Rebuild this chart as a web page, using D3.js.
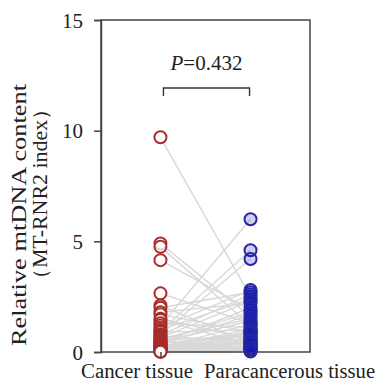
<!DOCTYPE html>
<html>
<head>
<meta charset="utf-8">
<script src="https://cdn.jsdelivr.net/npm/d3@7"></script>
<style>
  html, body { margin: 0; padding: 0; background: #fff; }
  svg { display: block; }
</style>
</head>
<body>
<svg id="chart" width="379" height="382"></svg>
<script>
const categories = ["Cancer tissue", "Paracancerous tissue"];
const cancerValues = [9.7, 4.9, 4.75, 4.15, 2.65, 2.1, 2.0, 1.8, 1.7, 1.5,
  1.45, 1.3, 1.2, 1.1, 1.0, 0.95, 0.9, 0.8, 0.75, 0.7,
  0.65, 0.6, 0.55, 0.5, 0.48, 0.45, 0.4, 0.38, 0.35, 0.32,
  0.3, 0.28, 0.25, 0.22, 0.2, 0.18, 0.16, 0.15, 0.12, 0.1,
  0.1, 0.08, 0.07, 0.06, 0.05, 0.05, 0.04, 0.03, 0.03, 0.02,
  0.02, 0.01];
const paraValues = [2.5, 1.6, 1.2, 1.9, 1.3, 0.4, 2.7, 2.2, 0.9, 0.6,
  0.3, 1.1, 6.0, 2.8, 2.4, 4.6, 1.0, 4.2, 2.6, 0.5,
  2.3, 1.5, 0.7, 1.8, 0.2, 1.4, 0.8, 2.0, 0.15, 1.7,
  0.35, 0.9, 0.1, 1.25, 0.6, 0.05, 1.05, 0.45, 0.75, 0.25,
  0.95, 0.3, 0.55, 0.12, 0.65, 0.85, 0.2, 0.4, 0.08, 0.5,
  0.18, 0.02];
const yTicks = [0, 5, 10, 15];
const pLabel = "0.432";
const yTitle1 = "Relative mtDNA content";
const yTitle2 = "（MT-RNR2 index）";

const svg = d3.select("#chart");
const mLeft = 101, mRight = 310, mTop = 20, mBottom = 352;
const font = "'Liberation Serif', 'Times New Roman', serif";

const x = d3.scalePoint().domain(categories).range([mLeft, mRight]).padding(0.66);
const y = d3.scaleLinear().domain([0, 15]).range([mBottom, mTop]);

const pairs = cancerValues.map((c, i) => ({ c: c, p: paraValues[i] }));

// connecting lines
svg.append("g").selectAll("line").data(pairs).join("line")
  .attr("x1", x(categories[0])).attr("x2", x(categories[1]))
  .attr("y1", d => y(d.c)).attr("y2", d => y(d.p))
  .attr("stroke", "#d8d8d8").attr("stroke-width", 1.4);

// frame
svg.append("rect").attr("x", mLeft).attr("y", mTop)
  .attr("width", mRight - mLeft).attr("height", mBottom - mTop)
  .attr("fill", "none").attr("stroke", "#444").attr("stroke-width", 1.5);

// cancer points
svg.append("g").selectAll("circle").data(cancerValues).join("circle")
  .attr("cx", x(categories[0])).attr("cy", d => y(d)).attr("r", 6)
  .attr("fill", "#fff").attr("fill-opacity", 0.75)
  .attr("stroke", "#a82c2c").attr("stroke-width", 2);

// paracancerous points
svg.append("g").selectAll("circle").data(paraValues).join("circle")
  .attr("cx", x(categories[1])).attr("cy", d => y(d)).attr("r", 6)
  .attr("fill", "#1010d0").attr("fill-opacity", 0.2)
  .attr("stroke", "#2626a0").attr("stroke-width", 2);

// y axis
const yAxis = svg.append("g").attr("transform", `translate(${mLeft},0)`)
  .call(d3.axisLeft(y).tickValues(yTicks).tickSize(7).tickPadding(11).tickFormat(d3.format("d")));
yAxis.select(".domain").attr("stroke", "#444").attr("stroke-width", 1.5);
yAxis.selectAll(".tick line").attr("stroke", "#444").attr("stroke-width", 1.5);
yAxis.selectAll("text").attr("font-family", font).attr("font-size", 21).attr("fill", "#222").attr("dy", "0.34em");

// x axis
const xAxis = svg.append("g").attr("transform", `translate(0,${mBottom})`)
  .call(d3.axisBottom(x).tickSize(5).tickPadding(7).tickSizeOuter(0));
xAxis.select(".domain").remove();
xAxis.selectAll(".tick line").attr("stroke", "#444").attr("stroke-width", 1.5);
xAxis.selectAll("text").attr("font-family", font).attr("font-size", 20).attr("fill", "#222")
  .attr("text-anchor", (d, i) => i === 0 ? "end" : "start")
  .attr("x", (d, i) => i === 0 ? 32 : -47)
  .attr("textLength", (d, i) => i === 0 ? 112 : 171)
  .attr("lengthAdjust", "spacingAndGlyphs");

// y axis title
svg.append("text")
  .attr("transform", "translate(26,215) rotate(-90)")
  .attr("text-anchor", "middle").attr("font-family", font).attr("font-size", 20)
  .attr("fill", "#222").attr("textLength", 262).attr("lengthAdjust", "spacingAndGlyphs")
  .text(yTitle1);
svg.append("text")
  .attr("transform", "translate(47,194) rotate(-90)")
  .attr("text-anchor", "middle").attr("font-family", font).attr("font-size", 20)
  .attr("fill", "#222").attr("textLength", 192).attr("lengthAdjust", "spacingAndGlyphs")
  .text(yTitle2);

// significance bracket
const bx1 = x(categories[0]) + 3, bx2 = x(categories[1]) - 1, by = 88;
svg.append("path")
  .attr("d", `M${bx1},${by + 8}V${by}H${bx2}V${by + 8}`)
  .attr("fill", "none").attr("stroke", "#333").attr("stroke-width", 1.4);
const pt = svg.append("text").attr("x", (bx1 + bx2) / 2).attr("y", 70)
  .attr("text-anchor", "middle").attr("font-family", font).attr("font-size", 21).attr("fill", "#222");
pt.append("tspan").attr("font-style", "italic").text("P");
pt.append("tspan").text("=" + pLabel);
</script>
</body>
</html>
